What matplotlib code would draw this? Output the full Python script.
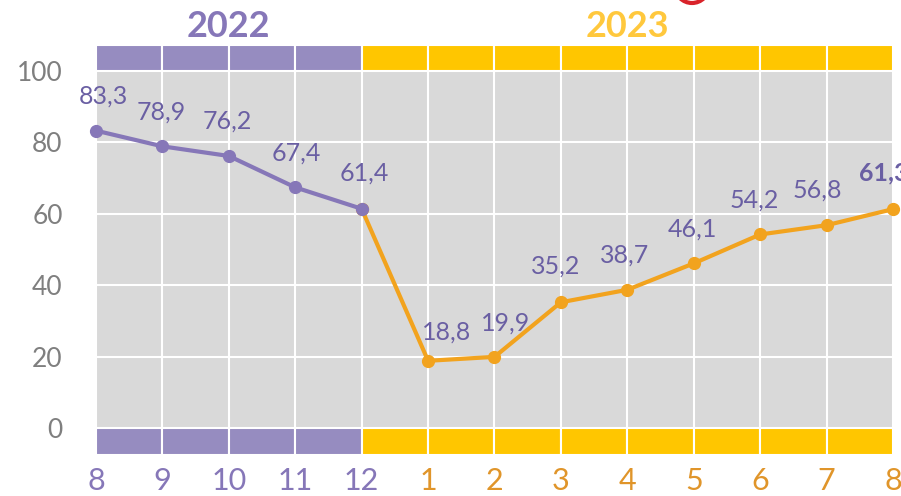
import matplotlib.pyplot as plt
from matplotlib.patches import Ellipse

# data
months = ['8', '9', '10', '11', '12', '1', '2', '3', '4', '5', '6', '7', '8']
values = [83.3, 78.9, 76.2, 67.4, 61.4, 18.8, 19.9, 35.2, 38.7, 46.1, 54.2, 56.8, 61.3]
years = ['2022', '2023']
n_2022 = 5  # months belonging to 2022

purple = '#8677b8'
purple_band = '#968cc0'
orange = '#f2a31e'
yellow_band = '#ffc600'
label_col = '#6a5fa3'

plt.rcParams['font.family'] = ['Lato', 'DejaVu Sans']

fig = plt.figure(figsize=(9.01, 4.96), dpi=100)
ax = fig.add_axes([96 / 901, 41 / 496, 797 / 901, 410 / 496])
ax.set_facecolor('#d9d9d9')

x = list(range(len(values)))
ax.set_xlim(0, len(values) - 1)
ax.set_ylim(-7.6, 107.3)

# colored bands at top and bottom
for i in range(len(values) - 1):
    col = purple_band if i < n_2022 - 1 else yellow_band
    ax.bar(i, 7.3, width=1, bottom=100, align='edge', color=col,
           edgecolor='white', linewidth=1.5, zorder=2)
    ax.bar(i, 7.6, width=1, bottom=-7.6, align='edge', color=col,
           edgecolor='white', linewidth=1.5, zorder=2)

# white grid
for xi in x:
    ax.axvline(xi, color='white', lw=1.5, zorder=1)
for yv in [20, 40, 60, 80]:
    ax.axhline(yv, color='white', lw=1.5, zorder=1)

# lines
ax.plot(x[n_2022 - 1:], values[n_2022 - 1:], color=orange, lw=3, marker='o',
        ms=8.5, zorder=4, clip_on=False)
ax.plot(x[:n_2022], values[:n_2022], color=purple, lw=3, marker='o',
        ms=8.5, zorder=5, clip_on=False)

# data labels
dx = [5, -1, -1, 1, 2, 13, 8, -4, -2, -1, -4, -7, -7]
dy = [25, 25, 25, 25, 26, 21, 24, 26, 25, 25, 25, 25, 26]
for i, v in enumerate(values):
    ax.annotate(f'{v:.1f}'.replace('.', ','), (x[i], v),
                xytext=(dx[i], dy[i]), textcoords='offset points',
                ha='center', va='center', fontsize=18, color=label_col,
                fontweight='bold' if i == len(values) - 1 else 'normal',
                zorder=6, annotation_clip=False)

# axes ticks
ax.set_yticks([0, 20, 40, 60, 80, 100])
ax.tick_params(axis='y', length=0, pad=24, labelsize=19, labelcolor='#7f7f7f')
ax.set_xticks(x)
ax.set_xticklabels(months)
ax.tick_params(axis='x', length=0, pad=9, labelsize=22)
for i, t in enumerate(ax.get_xticklabels()):
    t.set_color(purple if i < n_2022 else '#e0952a')

for s in ax.spines.values():
    s.set_visible(False)

# year headers
ax.text((n_2022 - 1) / 2, 1.045, years[0], transform=ax.get_xaxis_transform(),
        ha='center', va='center', fontsize=26, fontweight='bold', color=purple)
ax.text((n_2022 - 1 + len(values) - 1) / 2, 1.045, years[1],
        transform=ax.get_xaxis_transform(), ha='center', va='center',
        fontsize=26, fontweight='bold', color='#ffc83d')

# red mark cut off at the top
fig.patches.append(Ellipse((692 / 901, 1 + 14 / 496), 34 / 901, 34 / 496,
                           transform=fig.transFigure, facecolor='none',
                           edgecolor='#d9232a', lw=3))

fig.savefig('out.png', dpi=100)
